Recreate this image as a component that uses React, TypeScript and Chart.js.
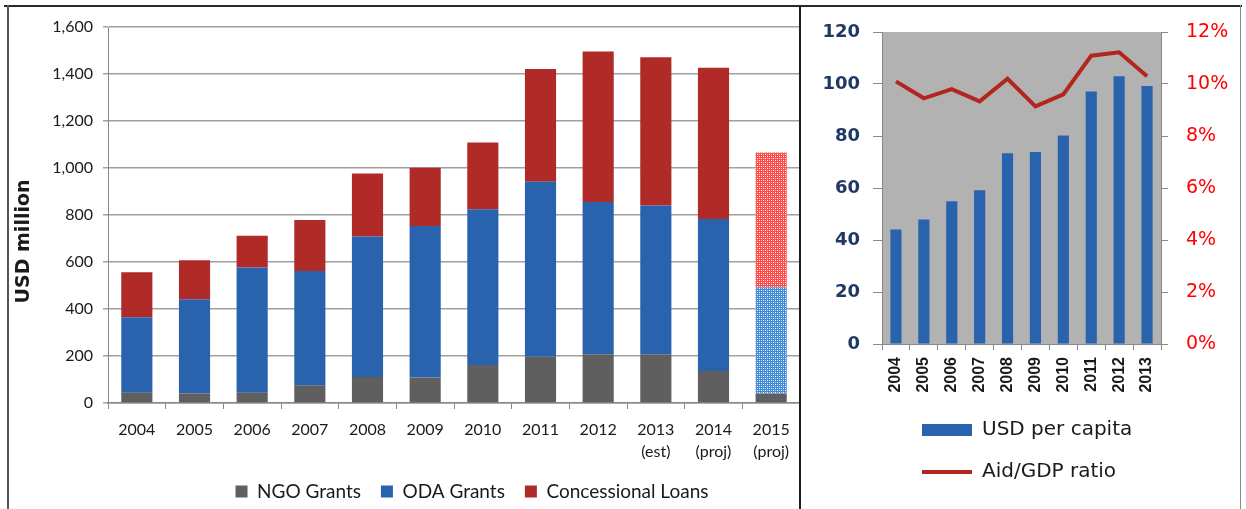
import React, { useEffect, useRef } from 'react';
import { Chart, registerables } from 'chart.js';

Chart.register(...registerables);

// ---- Left chart data (USD million) ----
const fundYears: (string | string[])[] = [
  '2004', '2005', '2006', '2007', '2008', '2009', '2010', '2011', '2012',
  ['2013', '(est)'], ['2014', '(proj)'], ['2015', '(proj)'],
];
const projectedYear = '2015';
const ngoGrants = [44, 40, 44, 75, 111, 108, 162, 197, 207, 207, 136, 40];
const odaGrants = [321, 401, 533, 487, 597, 645, 662, 745, 648, 633, 647, 451];
const concessionalLoans = [191, 166, 135, 217, 269, 248, 284, 479, 641, 631, 644, 575];

// ---- Right chart data ----
const capitaYears = ['2004', '2005', '2006', '2007', '2008', '2009', '2010', '2011', '2012', '2013'];
const usdPerCapita = [44, 47.9, 54.9, 59.1, 73.4, 73.8, 80.2, 97.1, 103, 99.2];
const aidGdpRatio = [10.1, 9.45, 9.8, 9.33, 10.2, 9.14, 9.6, 11.09, 11.22, 10.3];

const GRAY = '#5f5f5f';
const BLUE = '#2a63ad';
const RED = '#b02a28';

function makePattern(ctx: CanvasRenderingContext2D, base: string, dot: string, light: string) {
  const c = document.createElement('canvas');
  c.width = 4;
  c.height = 4;
  const g = c.getContext('2d')!;
  g.fillStyle = base;
  g.fillRect(0, 0, 4, 4);
  g.fillStyle = dot;
  g.fillRect(1, 1, 1, 1);
  g.fillRect(3, 3, 1, 1);
  g.fillStyle = light;
  g.fillRect(1, 3, 1, 1);
  g.fillRect(3, 1, 1, 1);
  return ctx.createPattern(c, 'repeat');
}

const legendShift = {
  id: 'legendShift',
  afterLayout(chart: any, _args: any, opts: any) {
    const lg = chart.legend;
    if (!lg) return;
    const dx = opts.dx || 0;
    const dy = opts.dy || 0;
    lg.left += dx;
    lg.right += dx;
    lg.top += dy;
    lg.bottom += dy;
  },
};

const plotBg = {
  id: 'plotBg',
  beforeDraw(chart: any, _args: any, opts: any) {
    if (!opts.color) return;
    const { ctx, chartArea } = chart;
    ctx.save();
    ctx.fillStyle = opts.color;
    ctx.fillRect(chartArea.left, chartArea.top, chartArea.right - chartArea.left, chartArea.bottom - chartArea.top);
    ctx.restore();
  },
};

function isProjected(label: string | string[]) {
  return (Array.isArray(label) ? label[0] : label) === projectedYear;
}

function LeftChart() {
  const ref = useRef<HTMLCanvasElement>(null);
  useEffect(() => {
    const canvas = ref.current!;
    const ctx = canvas.getContext('2d')!;
    const redPat = makePattern(ctx, '#ff4a4a', '#ffffff', '#ffb3b3');
    const bluePat = makePattern(ctx, '#3f8ad6', '#ffffff', '#b8d6f3');
    const styleFor = (solid: string, pat: any) => (c: any) =>
      c.dataIndex !== undefined && isProjected(fundYears[c.dataIndex]) ? pat : solid;
    const chart = new Chart(ctx, {
      type: 'bar',
      data: {
        labels: fundYears as any,
        datasets: [
          { label: 'NGO Grants', data: ngoGrants, backgroundColor: GRAY },
          { label: 'ODA Grants', data: odaGrants, backgroundColor: styleFor(BLUE, bluePat) as any },
          { label: 'Concessional Loans', data: concessionalLoans, backgroundColor: styleFor(RED, redPat) as any },
        ],
      },
      options: {
        animation: false,
        responsive: false,
        datasets: { bar: { barPercentage: 0.54, categoryPercentage: 1 } },
        layout: { padding: { top: 20, right: 0, bottom: 0, left: 0 } },
        plugins: {
          tooltip: { enabled: false },
          legend: {
            position: 'bottom',
            labels: {
              boxWidth: 12,
              boxHeight: 12,
              padding: 20,
              color: '#1a1a1a',
              font: { family: 'Lato', size: 19 },
            },
          },
          legendShift: { dx: 67, dy: 2 },
        } as any,
        scales: {
          x: {
            stacked: true,
            grid: { display: true, drawOnChartArea: false, offset: true, tickLength: 6, color: '#888' },
            border: { color: '#888', width: 1.5 },
            ticks: {
              padding: 10,
              color: '#1a1a1a',
              maxRotation: 0,
              autoSkip: false,
              font: { family: 'Lato', size: 16, lineHeight: 1.35 },
            },
            afterFit: (s: any) => { s.height = 57; },
          },
          y: {
            stacked: true,
            min: 0,
            max: 1600,
            ticks: {
              stepSize: 200,
              padding: 10,
              color: '#1a1a1a',
              font: { family: 'Lato', size: 16 },
              callback: (v: any) => Number(v).toLocaleString('en-US'),
            },
            grid: { color: '#a0a0a0', lineWidth: 1.5, tickLength: 5 },
            border: { color: '#888' },
            title: {
              display: true,
              text: 'USD million        ',
              color: '#1a1a1a',
              font: { family: 'DejaVu Sans', size: 19, weight: 'bold' },
              padding: { top: 3, bottom: 0 },
            },
            afterFit: (s: any) => { s.width = 98; },
          },
        },
      },
      plugins: [legendShift],
    } as any);
    return () => chart.destroy();
  }, []);
  return <canvas ref={ref} width={790} height={502} style={{ width: 790, height: 502, display: 'block' }} />;
}

function RightChart() {
  const ref = useRef<HTMLCanvasElement>(null);
  useEffect(() => {
    const ctx = ref.current!.getContext('2d')!;
    const chart = new Chart(ctx, {
      type: 'bar',
      data: {
        labels: capitaYears,
        datasets: [
          {
            type: 'bar',
            label: 'USD per capita',
            data: usdPerCapita,
            backgroundColor: BLUE,
            yAxisID: 'y',
            pointStyle: 'rect',
            barPercentage: 0.4,
            categoryPercentage: 1,
          },
          {
            type: 'line',
            label: 'Aid/GDP ratio',
            data: aidGdpRatio,
            borderColor: '#b3261e',
            backgroundColor: '#b3261e',
            borderWidth: 4,
            pointRadius: 0,
            tension: 0,
            yAxisID: 'y1',
            pointStyle: 'line',
          },
        ],
      },
      options: {
        animation: false,
        responsive: false,
        layout: { padding: { top: 25, right: 0, bottom: 17, left: 0 } },
        plugins: {
          tooltip: { enabled: false },
          legend: {
            position: 'bottom',
            fullSize: false,
            align: 'start',
            labels: {
              usePointStyle: true,
              pointStyleWidth: 50,
              boxHeight: 12,
              padding: 22,
              color: '#1a1a1a',
              font: { family: 'DejaVu Sans', size: 20 },
            },
          },
          legendShift: { dx: 18, dy: 0 },
          plotBg: { color: '#b2b2b2' },
        } as any,
        scales: {
          x: {
            offset: true,
            grid: { display: true, drawOnChartArea: false, offset: true, tickLength: 6, color: '#888' },
            border: { color: '#888' },
            ticks: {
              minRotation: 90,
              maxRotation: 90,
              padding: 7,
              autoSkip: false,
              color: '#1a1a1a',
              font: { family: 'Liberation Sans', size: 16, weight: 'bold' },
            },
            afterFit: (s: any) => { s.height = 54; },
          },
          y: {
            position: 'left',
            min: 0,
            max: 120,
            ticks: {
              stepSize: 20,
              padding: 13,
              color: '#1f3864',
              font: { family: 'DejaVu Sans', size: 18, weight: 'bold' },
            },
            grid: { drawOnChartArea: false, tickLength: 9, color: '#888' },
            border: { color: '#888' },
            afterFit: (s: any) => { s.width = 80; s.paddingTop = 11; s.paddingBottom = 11; },
          },
          y1: {
            position: 'right',
            min: 0,
            max: 12,
            ticks: {
              stepSize: 2,
              padding: 18,
              color: '#ff0000',
              font: { family: 'DejaVu Sans', size: 19 },
              callback: (v: any) => v + '%',
            },
            grid: { drawOnChartArea: false, tickLength: 7, color: '#888' },
            border: { color: '#888' },
            afterFit: (s: any) => { s.width = 79; s.paddingTop = 11; s.paddingBottom = 11; },
          },
        },
      },
      plugins: [legendShift, plotBg],
    } as any);
    return () => chart.destroy();
  }, []);
  return <canvas ref={ref} width={438} height={502} style={{ width: 438, height: 502, display: 'block' }} />;
}

export default function App() {
  const line = (l: number, t: number, w: number, h: number, c: string) => (
    <div style={{ position: 'absolute', left: l, top: t, width: w, height: h, background: c }} />
  );
  return (
    <div style={{ position: 'absolute', left: 0, top: 0, width: 1246, height: 509, background: '#fff', overflow: 'hidden' }}>
      <div style={{ position: 'absolute', left: 10, top: 7 }}>
        <LeftChart />
      </div>
      <div style={{ position: 'absolute', left: 802, top: 7 }}>
        <RightChart />
      </div>
      {line(4, 5, 1238, 2, '#2b2b2b')}
      {line(7, 5, 2, 504, '#555')}
      {line(799, 5, 2, 504, '#1e1e1e')}
      {line(1240, 5, 1, 504, '#888')}
    </div>
  );
}
